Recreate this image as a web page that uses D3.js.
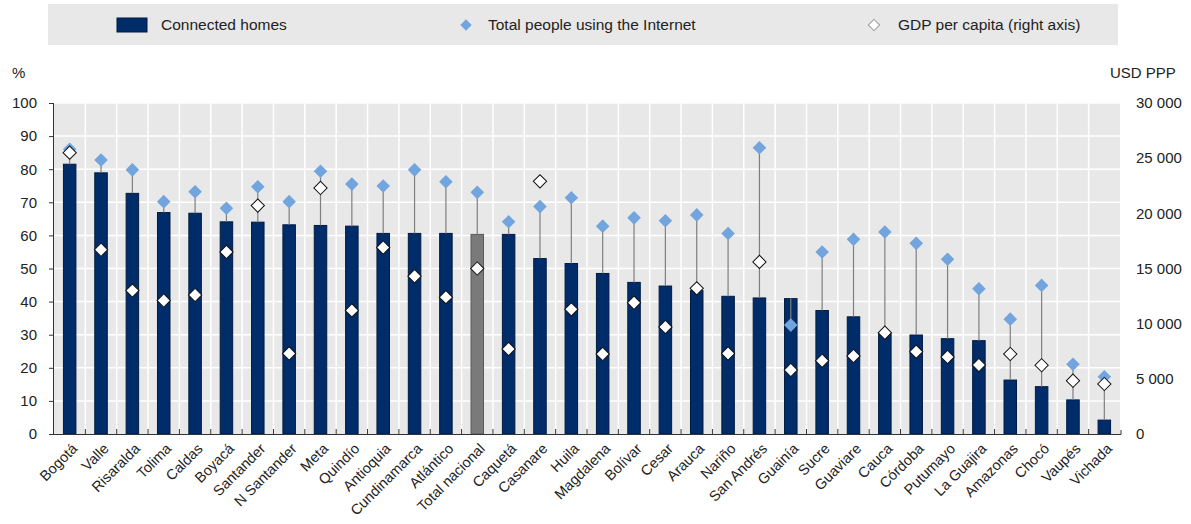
<!DOCTYPE html>
<html>
<head>
<meta charset="utf-8">
<script src="https://cdn.jsdelivr.net/npm/d3@7"></script>
<style>
  body { margin: 0; background: #fff; }
  svg text { font-family: "Liberation Sans", Arial, sans-serif; fill: #222; }
</style>
</head>
<body>
<svg id="chart" width="1191" height="524"></svg>
<script>
// data
var regions = ["Bogotá", "Valle", "Risaralda", "Tolima", "Caldas", "Boyacá", "Santander",
  "N Santander", "Meta", "Quindío", "Antioquia", "Cundinamarca", "Atlántico", "Total nacional",
  "Caquetá", "Casanare", "Huila", "Magdalena", "Bolívar", "Cesar", "Arauca", "Nariño",
  "San Andrés", "Guainía", "Sucre", "Guaviare", "Cauca", "Córdoba", "Putumayo", "La Guajira",
  "Amazonas", "Chocó", "Vaupés", "Vichada"];
var connectedHomes = [81.5, 78.9, 72.7, 66.9, 66.7, 64.1, 64.0, 63.2, 63.0, 62.8, 60.6, 60.6, 60.6, 60.3,
  60.3, 53.0, 51.5, 48.5, 45.8, 44.7, 43.3, 41.6, 41.1, 40.9, 37.3, 35.4, 30.4, 29.9, 28.8, 28.2,
  16.3, 14.3, 10.3, 4.2];
var internetUsers = [86.0, 82.8, 79.8, 70.2, 73.2, 68.2, 74.7, 70.2, 79.4, 75.5, 74.9, 79.8, 76.2, 73.0,
  64.1, 68.7, 71.4, 62.8, 65.3, 64.4, 66.2, 60.6, 86.5, 32.9, 55.0, 58.8, 61.0, 57.6, 52.8, 43.9,
  34.7, 44.9, 21.1, 17.3];
var gdpPerCapita = [25500, 16700, 13000, 12100, 12600, 16500, 20700, 7300, 22300, 11200, 16900, 14300,
  12400, 15000, 7700, 22900, 11300, 7250, 11900, 9700, 13200, 7300, 15600, 5800, 6640, 7070, 9180,
  7460, 6980, 6250, 7250, 6230, 4830, 4530];
var leftTicks = [0, 10, 20, 30, 40, 50, 60, 70, 80, 90, 100];
var rightTicks = [0, 5000, 10000, 15000, 20000, 25000, 30000];
var legendItems = ["Connected homes", "Total people using the Internet", "GDP per capita (right axis)"];

var svg = d3.select("#chart");
var pLeft = 54, pRight = 1120, pTop = 103, pBottom = 434;

var x = d3.scaleBand().domain(regions).range([pLeft, pRight]).paddingInner(0).paddingOuter(0);
var y = d3.scaleLinear().domain([0, 100]).range([pBottom, pTop]);
var y2 = d3.scaleLinear().domain([0, 30000]).range([pBottom, pTop]);
var fmt = function(v) { return d3.format(",")(v).replace(/,/g, " "); };
var cx = function(d) { return x(d) + x.bandwidth() / 2; };

// legend
var lg = svg.append("g");
lg.append("rect").attr("x", 48).attr("y", 4).attr("width", 1070).attr("height", 41).attr("fill", "#e8e8e8");
lg.append("rect").attr("x", 117).attr("y", 18).attr("width", 30).attr("height", 14)
  .attr("fill", "#002d6a").attr("stroke", "#001a40");
lg.append("text").attr("x", 161).attr("y", 30).style("font-size", "15.5px").text(legendItems[0]);
lg.append("path")
  .attr("d", d3.symbol(d3.symbolSquare, 64)).attr("transform", "translate(466,25)rotate(45)").attr("fill", "#72a4dd");
lg.append("text").attr("x", 488).attr("y", 30).style("font-size", "15.5px").text(legendItems[1]);
lg.append("path")
  .attr("d", d3.symbol(d3.symbolSquare, 64)).attr("transform", "translate(874,25)rotate(45)")
  .attr("fill", "#fff").attr("stroke", "#999");
lg.append("text").attr("x", 898).attr("y", 30).style("font-size", "15.5px").text(legendItems[2]);

// plot background and grid
svg.append("rect").attr("x", pLeft).attr("y", pTop).attr("width", pRight - pLeft).attr("height", pBottom - pTop)
  .attr("fill", "#e8e8e8");
svg.append("g").selectAll("line").data(leftTicks.slice(1)).enter().append("line")
  .attr("x1", pLeft).attr("x2", pRight).attr("y1", d => y(d)).attr("y2", d => y(d))
  .attr("stroke", "#fff").attr("stroke-width", 1.5);
svg.append("g").selectAll("line").data(regions.slice(1)).enter().append("line")
  .attr("x1", d => x(d)).attr("x2", d => x(d)).attr("y1", pTop).attr("y2", pBottom)
  .attr("stroke", "#fff").attr("stroke-width", 1.5);

// bars
var bw = 12.5;
svg.append("g").selectAll("rect").data(regions).enter().append("rect")
  .attr("x", d => cx(d) - bw / 2)
  .attr("y", (d, i) => y(connectedHomes[i]))
  .attr("width", bw)
  .attr("height", (d, i) => pBottom - y(connectedHomes[i]))
  .attr("fill", d => d == "Total nacional" ? "#7a7a7a" : "#002d6a")
  .attr("stroke", d => d == "Total nacional" ? "#5a5a5a" : "#001a40")
  .attr("stroke-width", 1);

// connecting lines bar top -> internet
svg.append("g").selectAll("line").data(regions).enter().append("line")
  .attr("x1", cx).attr("x2", cx)
  .attr("y1", (d, i) => y(connectedHomes[i]))
  .attr("y2", (d, i) => y(internetUsers[i]))
  .attr("stroke", "#7f7f7f").attr("stroke-width", 1.2);

// internet diamonds (rotated squares)
svg.append("g").selectAll("path").data(regions).enter().append("path")
  .attr("transform", (d, i) => "translate(" + cx(d) + "," + y(internetUsers[i]) + ")rotate(45)")
  .attr("d", d3.symbol(d3.symbolSquare, 92))
  .attr("fill", "#72a4dd");

// gdp diamonds
svg.append("g").selectAll("path").data(regions).enter().append("path")
  .attr("transform", (d, i) => "translate(" + cx(d) + "," + y2(gdpPerCapita[i]) + ")rotate(45)")
  .attr("d", d3.symbol(d3.symbolSquare, 88))
  .attr("fill", "#fff").attr("stroke", "#111").attr("stroke-width", 1);

// left axis
var yAxis = svg.append("g").attr("transform", "translate(" + pLeft + ",0)")
  .call(d3.axisLeft(y).tickValues(leftTicks).tickSize(5).tickPadding(12));
yAxis.select(".domain").attr("stroke", "#333").attr("d", "M-0.5," + pTop + "V" + pBottom);
yAxis.selectAll("line").attr("stroke", "#333");
yAxis.selectAll("text").style("font-size", "15px").attr("fill", "#222");

// right axis, labels only
var yAxis2 = svg.append("g").attr("transform", "translate(" + pRight + ",0)")
  .call(d3.axisRight(y2).tickValues(rightTicks).tickSize(0).tickPadding(16).tickFormat(fmt));
yAxis2.select(".domain").remove();
yAxis2.selectAll("text").style("font-size", "15px").attr("fill", "#222");

// bottom axis
var xAxis = svg.append("g").attr("transform", "translate(0," + pBottom + ")")
  .call(d3.axisBottom(x).tickSize(0).tickFormat(""));
xAxis.select(".domain").attr("stroke", "#333").attr("d", "M" + pLeft + ",0.5H" + (pRight + 1) + "V-4");
svg.append("g").selectAll("line").data(regions.slice(1)).enter().append("line")
  .attr("x1", d => x(d)).attr("x2", d => x(d)).attr("y1", pBottom).attr("y2", pBottom - 5)
  .attr("stroke", "#333");
svg.append("g").selectAll("text").data(regions).enter().append("text")
  .attr("transform", d => "translate(" + (cx(d) + 5) + "," + (pBottom + 12) + ")rotate(-45)")
  .attr("text-anchor", "end")
  .attr("dy", "0.35em")
  .style("font-size", "14.5px")
  .text(d => d);

// unit labels
svg.append("text").attr("x", 12).attr("y", 78).style("font-size", "15px").text("%");
svg.append("text").attr("x", 1110).attr("y", 78).style("font-size", "15px").text("USD PPP");
</script>
</body>
</html>
